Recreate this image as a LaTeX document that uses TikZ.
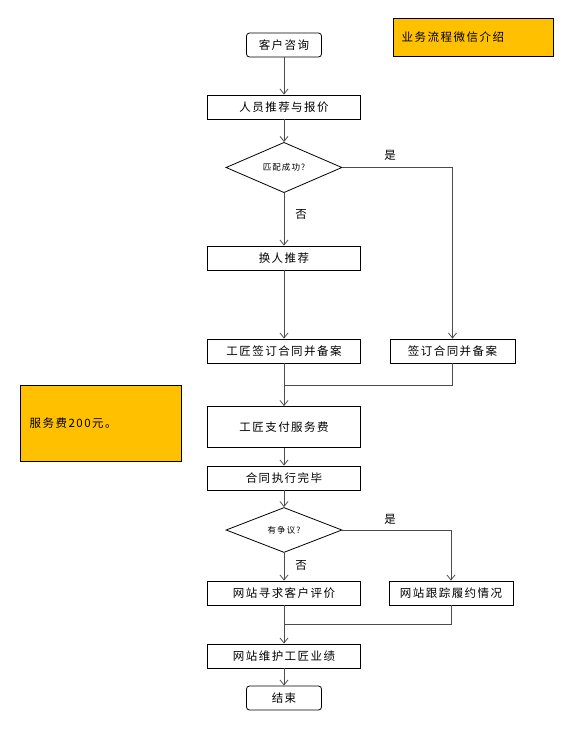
\documentclass[tikz,border=0pt]{standalone}
\usepackage{fontspec}
\newfontfamily\cjk[LetterSpace=13]{Noto Sans CJK SC}
\usetikzlibrary{shapes.geometric,arrows.meta}
\begin{document}
\begin{tikzpicture} [
            x=1pt, y=-1pt,
            font=\cjk\fontsize{11.5}{13}\selectfont,
            box/.style={draw,line width=0.8pt,minimum width=153pt,minimum height=24pt,inner sep=1pt},
            endbox/.style={draw,line width=0.8pt,rounded corners=3pt,minimum width=75pt,minimum height=24pt,inner sep=1pt},
            decision/.style={diamond,draw,line width=0.8pt,minimum width=116pt,minimum height=45pt,inner sep=0pt,
                font=\cjk\fontsize{8.5}{10}\selectfont},
            note/.style={draw,line width=0.8pt,fill=noteyellow,anchor=north west,inner sep=0pt},
            line/.style = {draw,black!70,thick,-{Straight Barb[length=5pt,width=8pt]}},
            joint/.style = {draw,black!70,thick},
        ]
        \definecolor{noteyellow}{HTML}{FFC000}
        \useasboundingbox (0,0) rectangle (564,745);
        % start / end
        \node[endbox] (kehu) at (284,45) {客户咨询};
        \node[endbox] (jieshu) at (284,698) {结束};
        % process boxes
        \foreach \pos/\name/\txt in {
                {(284,107)/tuijian/人员推荐与报价}, {(284,258)/huanren/换人推荐},
                {(284,351)/gjqianding/工匠签订合同并备案}, {(284,478)/zhixing/合同执行完毕},
                {(284,593)/pingjia/网站寻求客户评价}, {(284,656)/weihu/网站维护工匠业绩}}
            \node[box] (\name) at \pos {\txt};
        \node[box,minimum width=125pt] (qianding) at (452.5,351) {签订合同并备案};
        \node[box,minimum width=124pt] (genzong) at (451,593) {网站跟踪履约情况};
        \node[box,minimum height=41pt] (zhifu) at (284,427) {工匠支付服务费};
        % decisions
        \node[decision] (pipei) at (284,167.5) {匹配成功?};
        \node[decision] (zhengyi) at (284,530) {有争议?};
        % notes
        \node[note,minimum width=160pt,minimum height=38pt] (jieshao) at (393,18) {};
        \node[anchor=west] (jieshaotxt) at (398,37) {业务流程微信介绍};
        \node[note,minimum width=161pt,minimum height=76pt] (fuwufei) at (20,385) {};
        \node[anchor=west] (fuwufeitxt) at (26,423) {服务费200元。};
        % joints
        \coordinate (hebing1) at (284,385);
        \coordinate (hebing2) at (284,624);
        % labels
        \node (shi1) at (390,155) {是};
        \node (fou1) at (301,214) {否};
        \node (shi2) at (390,519) {是};
        \node (fou2) at (301,565) {否};
        % connectors
        \foreach \source/ \dest in {
                kehu/tuijian,tuijian/pipei,pipei/huanren,huanren/gjqianding,
                zhifu/zhixing,zhixing/zhengyi,zhengyi/pingjia,weihu/jieshu}
            \path[line] (\source) -- (\dest);
        \path[line] (pipei.east) -| (qianding.north);
        \path[line] (zhengyi.east) -| (genzong.north);
        \path[line] (gjqianding) -- (zhifu);
        \path[joint] (qianding.south) |- (hebing1);
        \path[line] (pingjia) -- (weihu);
        \path[joint] (genzong.south) |- (hebing2);
    \end{tikzpicture}
\end{document}
